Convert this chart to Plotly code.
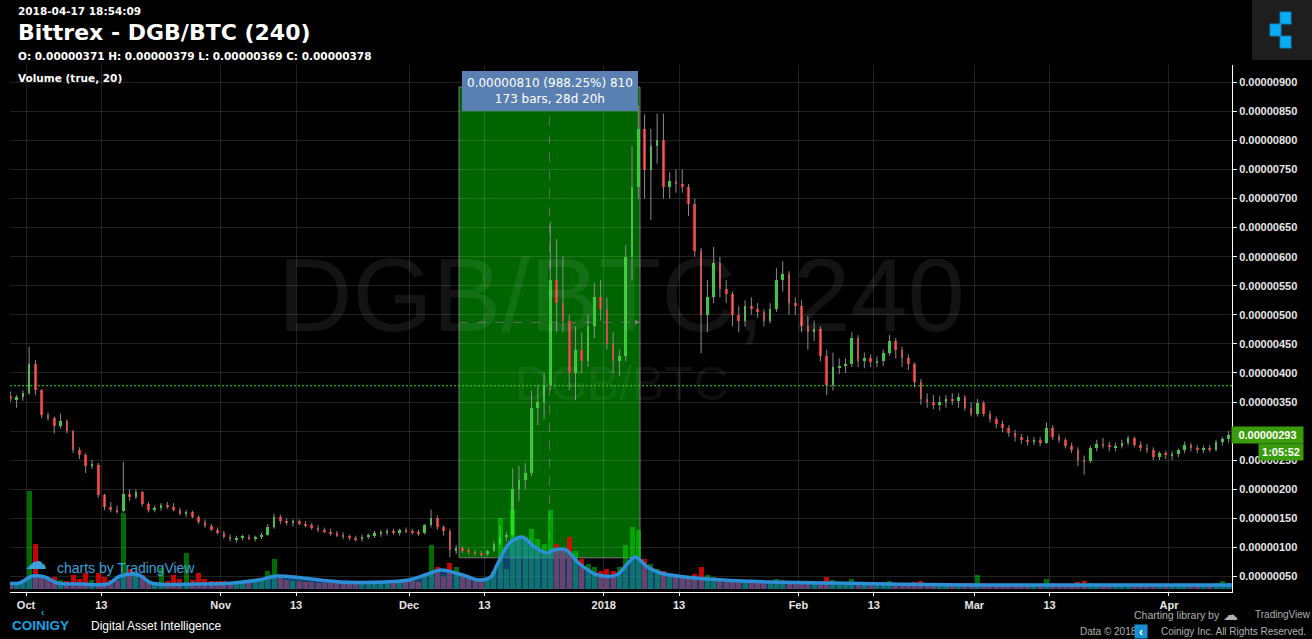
import plotly.graph_objects as go
import pandas as pd

SAT = 1e-8  # prices are stored in satoshi

# ---------------- data (daily candles, in satoshi) ----------------
first_open = 360
close_sep = [355, 358, 365]
high_sep = [368, 362, 370]
low_sep = [350, 340, 352]
vol_sep = [7, 6, 8]

close_oct = [415, 370, 328, 322, 308, 318, 300, 268, 258, 240, 242, 190, 170, 165, 162, 192, 186, 195, 175, 165,
             168, 172, 170, 165, 158, 160, 152, 144, 136, 130, 125]
high_oct = [445, 422, 372, 332, 325, 330, 320, 302, 272, 262, 250, 245, 192, 178, 172, 247, 200, 200, 197, 178,
            172, 176, 178, 176, 168, 164, 163, 155, 148, 140, 134]
low_oct = [362, 362, 322, 318, 296, 304, 296, 262, 252, 228, 235, 185, 164, 160, 158, 160, 180, 183, 170, 160,
           160, 163, 166, 162, 155, 152, 150, 140, 134, 128, 122]
vol_oct = [98, 45, 14, 10, 12, 9, 8, 14, 10, 16, 9, 16, 12, 9, 8, 76, 20, 14, 14, 8,
           7, 21, 8, 14, 10, 36, 9, 16, 10, 8, 8]

close_nov = [118, 114, 116, 118, 115, 117, 122, 135, 152, 145, 142, 145, 140, 138, 133, 130, 127, 124, 121, 118,
             116, 114, 118, 120, 124, 126, 128, 125, 130, 128]
high_nov = [128, 122, 120, 122, 122, 120, 125, 140, 158, 156, 150, 148, 148, 145, 142, 138, 134, 132, 128, 126,
            122, 120, 122, 124, 128, 130, 132, 132, 132, 134]
low_nov = [115, 110, 108, 112, 112, 110, 114, 120, 132, 140, 138, 136, 138, 134, 130, 126, 124, 120, 118, 114,
           112, 110, 110, 114, 116, 118, 120, 122, 120, 124]
vol_nov = [8, 7, 6, 7, 6, 7, 9, 18, 30, 14, 9, 8, 8, 7, 7, 6, 6, 6, 6, 6,
           6, 6, 7, 7, 8, 8, 8, 7, 9, 8]

close_dec = [126, 124, 138, 150, 135, 128, 95, 98, 94, 92, 90, 88, 94, 106, 118, 122, 200, 215, 228, 340,
             350, 380, 560, 520, 490, 400, 440, 420, 480, 530, 510]
high_dec = [132, 130, 140, 165, 155, 138, 132, 104, 102, 98, 96, 94, 96, 110, 138, 126, 236, 240, 245, 370,
            380, 400, 660, 630, 600, 500, 480, 470, 500, 555, 560]
low_dec = [122, 120, 122, 134, 130, 120, 83, 88, 90, 88, 86, 84, 85, 92, 104, 110, 118, 180, 200, 222,
           310, 320, 370, 470, 470, 370, 353, 400, 410, 460, 490]
vol_dec = [8, 7, 14, 44, 22, 12, 26, 22, 12, 10, 9, 8, 10, 18, 71, 20, 79, 50, 52, 60,
           50, 45, 79, 45, 40, 52, 38, 30, 25, 22, 18]

close_jan = [450, 420, 430, 600, 720, 820, 750, 790, 800, 720, 730, 725, 720, 690, 610, 500, 530, 590, 545, 535,
             500, 490, 515, 510, 505, 490, 510, 560, 570, 520, 515]
high_jan = [530, 470, 440, 620, 790, 860, 845, 820, 846, 846, 745, 750, 750, 725, 700, 615, 560, 617, 600, 560,
            540, 515, 525, 530, 520, 510, 520, 580, 592, 575, 530]
low_jan = [440, 400, 394, 420, 560, 700, 700, 663, 760, 700, 700, 710, 710, 670, 600, 434, 470, 520, 530, 520,
           480, 470, 480, 500, 495, 480, 485, 505, 540, 500, 500]
vol_jan = [20, 18, 22, 44, 62, 59, 30, 25, 20, 18, 14, 12, 11, 12, 15, 22, 14, 12, 10, 9,
           9, 8, 8, 7, 7, 7, 7, 10, 9, 8, 7]

close_feb = [480, 470, 475, 430, 380, 410, 412, 415, 460, 420, 425, 418, 420, 435, 455, 440, 425, 415, 385, 355,
             350, 345, 350, 355, 352, 358, 340, 330]
high_feb = [525, 498, 490, 480, 440, 435, 425, 425, 470, 465, 435, 432, 428, 440, 465, 460, 445, 432, 418, 390,
            365, 362, 360, 362, 365, 365, 362, 350]
low_feb = [470, 440, 455, 420, 362, 370, 398, 400, 410, 410, 408, 410, 410, 412, 430, 425, 410, 405, 375, 345,
           340, 338, 335, 340, 345, 340, 335, 325]
vol_feb = [8, 7, 6, 8, 12, 9, 7, 6, 10, 7, 6, 6, 6, 7, 8, 6, 6, 6, 7, 8,
           6, 5, 5, 5, 5, 5, 6, 6]

close_mar = [348, 330, 320, 312, 305, 296, 290, 285, 282, 284, 280, 305, 290, 284, 275, 268, 250, 248, 270, 278,
             276, 272, 275, 280, 288, 276, 270, 268, 256, 262, 258]
high_mar = [355, 352, 335, 325, 318, 310, 302, 295, 292, 290, 290, 315, 310, 295, 288, 280, 272, 258, 275, 285,
            288, 282, 280, 285, 292, 290, 282, 278, 272, 265, 266]
low_mar = [325, 325, 315, 305, 298, 290, 282, 278, 275, 276, 274, 278, 285, 280, 270, 262, 240, 225, 245, 265,
           270, 265, 265, 270, 275, 272, 265, 262, 250, 250, 252]
vol_mar = [14, 6, 5, 5, 5, 5, 5, 5, 5, 5, 5, 10, 6, 5, 5, 5, 7, 8, 6, 5,
           5, 5, 5, 5, 5, 5, 5, 5, 5, 5, 5]

close_apr = [260, 268, 276, 270, 268, 270, 268, 282, 286, 293]
high_apr = [265, 270, 282, 280, 276, 275, 276, 285, 290, 300]
low_apr = [250, 255, 262, 265, 262, 262, 264, 265, 275, 280]
vol_apr = [5, 5, 5, 5, 5, 5, 5, 6, 8, 6]

# Volume moving average (20)
ma_dates = ['2017-09-28', '2017-09-30', '2017-10-02', '2017-10-04', '2017-10-06', '2017-10-10', '2017-10-14',
            '2017-10-16', '2017-10-19', '2017-10-21', '2017-10-28', '2017-11-03', '2017-11-07', '2017-11-10',
            '2017-11-14', '2017-11-20', '2017-11-27', '2017-12-01', '2017-12-04', '2017-12-06', '2017-12-10',
            '2017-12-12', '2017-12-14', '2017-12-15', '2017-12-17', '2017-12-19', '2017-12-21', '2017-12-23',
            '2017-12-24', '2017-12-26', '2017-12-28', '2017-12-30', '2017-12-31', '2018-01-03', '2018-01-05',
            '2018-01-06', '2018-01-08', '2018-01-10', '2018-01-14', '2018-01-20', '2018-01-28', '2018-02-06',
            '2018-02-15', '2018-03-01', '2018-03-15', '2018-04-11']
ma_vals = [6, 6, 13, 12, 6, 5, 5, 13, 14, 6, 5, 6, 9, 13, 11, 7, 7, 9, 15, 19,
           13, 9, 12, 24, 46, 52, 42, 36, 39, 39, 26, 17, 14, 14, 27, 32, 22, 16, 12, 9,
           7, 6, 5, 4, 4, 4]

header_ohlc = [371, 379, 369, 378]   # O H L C of the header
last_price = 293

# measurement (date range) tool
meas_start = '2017-12-08 22:50'
meas_end = '2018-01-06 18:30'
meas_mid = '2017-12-23 08:40'
meas_low = 82
meas_high = 892
meas_text = '0.00000810 (988.25%) 810<br>173 bars, 28d 20h'

tick_vals = ['2017-10-01', '2017-10-13', '2017-11-01', '2017-11-13', '2017-12-01', '2017-12-13', '2018-01-01',
             '2018-01-13', '2018-02-01', '2018-02-13', '2018-03-01', '2018-03-13', '2018-04-01']
tick_text = ['Oct', '13', 'Nov', '13', 'Dec', '13', '2018', '13', 'Feb', '13', 'Mar', '13', 'Apr']

# ---------------- assemble ----------------
close = close_sep + close_oct + close_nov + close_dec + close_jan + close_feb + close_mar + close_apr
high = high_sep + high_oct + high_nov + high_dec + high_jan + high_feb + high_mar + high_apr
low = low_sep + low_oct + low_nov + low_dec + low_jan + low_feb + low_mar + low_apr
vol = vol_sep + vol_oct + vol_nov + vol_dec + vol_jan + vol_feb + vol_mar + vol_apr
open_ = [first_open] + close[:-1]
dates = pd.date_range('2017-09-28 12:00', periods=len(close), freq='D')

UP = '#19e619'
DOWN = '#ff1a1a'
DAY_MS = 86400000

fig = go.Figure()

# volume
vcol = ['rgba(0,255,0,0.42)' if c >= o else 'rgba(255,0,0,0.78)' for o, c in zip(open_, close)]
fig.add_trace(go.Bar(x=dates, y=vol, yaxis='y2', width=0.8 * DAY_MS, marker=dict(color=vcol, line=dict(width=0)),
                     hoverinfo='skip'))
fig.add_trace(go.Scatter(x=ma_dates, y=ma_vals, yaxis='y2', mode='lines', fill='tozeroy',
                         fillcolor='rgba(30,120,200,0.55)', line=dict(color='#2c90d8', width=3.5, shape='spline'),
                         hoverinfo='skip'))

# wicks
wx, wy = [], []
for d, h, l in zip(dates, high, low):
    wx += [d, d, None]
    wy += [h * SAT, l * SAT, None]
fig.add_trace(go.Scatter(x=wx, y=wy, mode='lines', line=dict(color='#8c8c8c', width=1), hoverinfo='skip'))

# bodies
for is_up, col in [(True, UP), (False, DOWN)]:
    bx, bb, bh = [], [], []
    for d, o, c in zip(dates, open_, close):
        if (c >= o) == is_up:
            bx.append(d)
            bb.append(min(o, c) * SAT)
            bh.append(max(abs(c - o), 1.5) * SAT)
    fig.add_trace(go.Bar(x=bx, y=bh, base=bb, width=0.42 * DAY_MS, marker=dict(color=col, line=dict(width=0)),
                         hoverinfo='skip'))

shapes = [
    # measurement rectangle
    dict(type='rect', xref='x', yref='y', x0=meas_start, x1=meas_end, y0=meas_low * SAT, y1=meas_high * SAT,
         fillcolor='rgb(0,100,0)', line=dict(color='#7a7a7a', width=1), layer='below'),
    dict(type='line', xref='x', yref='y', x0=meas_mid, x1=meas_mid, y0=meas_low * SAT, y1=meas_high * SAT,
         line=dict(color='#6a6a6a', width=1, dash='dash'), layer='below'),
    dict(type='line', xref='x', yref='y', x0=meas_start, x1=meas_end, y0=(meas_low + meas_high) / 2 * SAT,
         y1=(meas_low + meas_high) / 2 * SAT, line=dict(color='#6a6a6a', width=1, dash='dash'), layer='below'),
    # header close price line
    dict(type='line', xref='paper', yref='y', x0=0, x1=1, y0=header_ohlc[3] * SAT, y1=header_ohlc[3] * SAT,
         line=dict(color='#46d41e', width=1, dash='2px,2px'), layer='above'),
    # logo (top right)
    dict(type='rect', xref='paper', yref='paper', x0=1.0164, x1=1.0700, y0=1.0095, y1=1.13,
         fillcolor='#1e1e1e', line=dict(width=0)),
    dict(type='rect', xref='paper', yref='paper', x0=1.0393, x1=1.0483, y0=1.0778, y1=1.1006,
         fillcolor='#0aaef0', line=dict(color='#0a80c0', width=1)),
    dict(type='rect', xref='paper', yref='paper', x0=1.0311, x1=1.0401, y0=1.0550, y1=1.0778,
         fillcolor='#0aaef0', line=dict(color='#0a80c0', width=1)),
    dict(type='rect', xref='paper', yref='paper', x0=1.0393, x1=1.0483, y0=1.0323, y1=1.0550,
         fillcolor='#0aaef0', line=dict(color='#0a80c0', width=1)),
]

hdr = 'O: {:.8f} H: {:.8f} L: {:.8f} C: {:.8f}'.format(*[v * SAT for v in header_ohlc])
WM = 'rgba(255,255,255,0.075)'
FOOT = '#b0b0b0'
annotations = [
    dict(text='DGB/BTC, 240', xref='paper', yref='paper', x=0.5, y=0.563, showarrow=False,
         font=dict(family='Liberation Sans', size=103, color=WM)),
    dict(text='DGB/BTC', xref='paper', yref='paper', x=0.5, y=0.395, showarrow=False,
         font=dict(family='Liberation Sans', size=48, color=WM)),
    dict(text='2018-04-17 18:54:09', xref='paper', yref='paper', x=0.0049, y=1.1025, xanchor='left',
         yanchor='middle', showarrow=False, font=dict(size=10.5, color='white', weight='bold')),
    dict(text='Bittrex - DGB/BTC (240)', xref='paper', yref='paper', x=0.0049, y=1.0626, xanchor='left',
         yanchor='middle', showarrow=False, font=dict(size=22, color='white', weight='bold')),
    dict(text=hdr, xref='paper', yref='paper', x=0.0049, y=1.0171, xanchor='left',
         yanchor='middle', showarrow=False, font=dict(size=10.5, color='white', weight='bold')),
    dict(text='Volume (true, 20)', xref='paper', yref='paper', x=0.0049, y=0.9753, xanchor='left',
         yanchor='middle', showarrow=False, font=dict(size=10.5, color='white', weight='bold')),
    # measurement label
    dict(text=meas_text, xref='x', yref='y', x=meas_mid, y=meas_high * SAT, yshift=-4, showarrow=False,
         yanchor='middle', bgcolor='#5a80b2', bordercolor='#5a80b2', borderpad=4, align='center',
         font=dict(size=12, color='white')),
    # arrow at end of horizontal dashed line
    dict(text='', xref='x', yref='y', x=meas_end, y=(meas_low + meas_high) / 2 * SAT, ax=-7, ay=0,
         showarrow=True, arrowhead=2, arrowsize=1, arrowwidth=1, arrowcolor='#7a7a7a'),
    # right price labels
    dict(text='{:.8f}'.format(last_price * SAT), xref='paper', yref='y', x=0.9992, y=last_price * SAT,
         xanchor='left', yanchor='middle', showarrow=False, bgcolor='#3a9c0a', borderpad=1, width=69, height=14,
         font=dict(family='Liberation Sans', size=11, color='white', weight='bold')),
    dict(text='1:05:52', xref='paper', yref='y', x=1.0213, y=last_price * SAT, yshift=-17,
         xanchor='left', yanchor='middle', showarrow=False, bgcolor='#3a9c0a', borderpad=1, width=42, height=14,
         font=dict(family='Liberation Sans', size=11, color='white', weight='bold')),
    # tradingview watermark
    dict(text='\u2601', xref='paper', yref='paper', x=0.0213, y=0.058, showarrow=False, xanchor='center',
         yanchor='middle', font=dict(size=22, color='#3ca0dc')),
    dict(text='charts by TradingView', xref='paper', yref='paper', x=0.0368, y=0.0455, xanchor='left',
         yanchor='middle', showarrow=False, font=dict(family='Liberation Sans', size=14, color='#3ca0dc')),
    # footer
    dict(text='\u2039', xref='paper', yref='paper', x=0.0262, y=-0.038, showarrow=False, xanchor='center',
         yanchor='middle', font=dict(family='Liberation Sans', size=10, color='#19a3e2', weight='bold')),
    dict(text='COINIGY', xref='paper', yref='paper', x=0.0, y=-0.0645, xanchor='left', yanchor='middle',
         showarrow=False, font=dict(family='Liberation Sans', size=13.5, color='#19a3e2', weight='bold')),
    dict(text='Digital Asset Intelligence', xref='paper', yref='paper', x=0.0646, y=-0.0645, xanchor='left',
         yanchor='middle', showarrow=False, font=dict(family='Liberation Sans', size=12, color='white')),
    dict(text='Charting library by', xref='paper', yref='paper', x=0.9918, y=-0.0436, xanchor='right',
         yanchor='middle', showarrow=False, font=dict(family='Liberation Sans', size=10.5, color=FOOT)),
    dict(text='\u2601', xref='paper', yref='paper', x=1.0065, y=-0.0436, showarrow=False,
         yanchor='middle', font=dict(size=15, color=FOOT)),
    dict(text='TradingView', xref='paper', yref='paper', x=1.0172, y=-0.0436, xanchor='left',
         yanchor='middle', showarrow=False, font=dict(family='Liberation Sans', size=10, color=FOOT)),
    dict(text='Data \u00a9 2018', xref='paper', yref='paper', x=0.9239, y=-0.0759, xanchor='right',
         yanchor='middle', showarrow=False, font=dict(family='Liberation Sans', size=10, color=FOOT)),
    dict(text='<b>\u2039</b>', xref='paper', yref='paper', x=0.9313, y=-0.0759, showarrow=False,
         yanchor='middle', bgcolor='#1a8fd0', width=12, height=13, borderpad=0,
         font=dict(family='Liberation Sans', size=12, color='white')),
    dict(text='Coinigy Inc. All Rights Reserved.', xref='paper', yref='paper', x=0.9403, y=-0.0759,
         xanchor='left', yanchor='middle', showarrow=False,
         font=dict(family='Liberation Sans', size=10, color=FOOT)),
]

GRID = 'rgba(255,255,255,0.13)'
fig.update_layout(
    width=1312, height=639, autosize=False,
    paper_bgcolor='black', plot_bgcolor='black',
    margin=dict(l=10, r=80, t=65, b=47),
    showlegend=False, barmode='overlay', bargap=0,
    font=dict(family='DejaVu Sans', color='white'),
    xaxis=dict(type='date', range=['2017-09-28 10:50', '2018-04-11 01:00'], tickvals=tick_vals,
               ticktext=tick_text, showgrid=True, gridcolor=GRID, gridwidth=1, showline=True, linecolor='white',
               linewidth=1, ticks='outside', ticklen=3, tickcolor='white', zeroline=False,
               tickfont=dict(family='Liberation Sans', size=11, color='#e6e6e6', weight='bold'), fixedrange=True),
    yaxis=dict(side='right', range=[23.1 * SAT, 929.8 * SAT], tick0=0, dtick=50 * SAT, tickformat='.8f',
               showgrid=True, gridcolor=GRID, gridwidth=1, showline=True, linecolor='white', linewidth=1,
               ticks='outside', ticklen=4, tickcolor='white', zeroline=False,
               tickfont=dict(family='Liberation Sans', size=11, color='#e6e6e6', weight='bold'), fixedrange=True),
    yaxis2=dict(overlaying='y', range=[-3, 524], visible=False, fixedrange=True),
    shapes=shapes, annotations=annotations,
)

fig.write_html("out.html", config={'displayModeBar': False},
               post_script="document.body.style.margin='0';document.body.style.overflow='hidden';")
